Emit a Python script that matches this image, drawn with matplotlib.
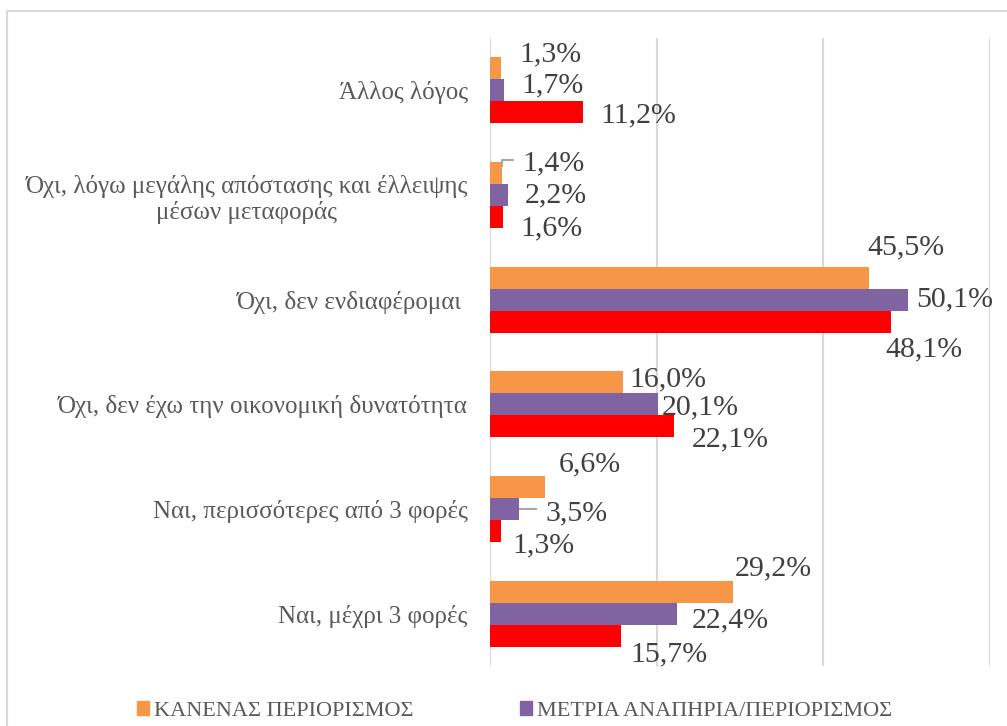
import numpy as np
import matplotlib.pyplot as plt
from matplotlib.lines import Line2D
from matplotlib.patches import Patch

# categories from bottom to top (as in the original Excel chart)
categories = [
    "Ναι, μέχρι 3 φορές",
    "Ναι, περισσότερες από 3 φορές",
    "Όχι, δεν έχω την οικονομική δυνατότητα",
    "Όχι, δεν ενδιαφέρομαι ",
    "Όχι, λόγω μεγάλης απόστασης και έλλειψης\nμέσων μεταφοράς",
    "Άλλος λόγος",
]
series_names = ["ΚΑΝΕΝΑΣ ΠΕΡΙΟΡΙΣΜΟΣ", "ΜΕΤΡΙΑ ΑΝΑΠΗΡΙΑ/ΠΕΡΙΟΡΙΣΜΟΣ", "ΣΟΒΑΡΗ ΑΝΑΠΗΡΙΑ/ΠΕΡΙΟΡΙΣΜΟΣ"]
none_vals = [29.2, 6.6, 16.0, 45.5, 1.4, 1.3]
moderate_vals = [22.4, 3.5, 20.1, 50.1, 2.2, 1.7]
severe_vals = [15.7, 1.3, 22.1, 48.1, 1.6, 11.2]
colors = ["#f79646", "#8064a2", "#ff0000"]

# label offsets in pixels from bar end (dx, dy), per series, bottom-to-top
label_offsets = [
    [(1, 23), (14, 23), (6, 3), (-2, 30), (21, 10), (19, 14)],
    [(15, -7), (26, -4), (4, -3), (9, 0), (16, 0), (17, 5)],
    [(10, -19), (12, -14), (18, -13), (-5, -28), (17, -11), (17, -3)],
]

serif = ["Liberation Serif", "DejaVu Serif"]

fig = plt.figure(figsize=(10.07, 7.26), dpi=100)
ax = fig.add_axes([490 / 1007, 1 - 666 / 726, 500 / 1007, 628 / 726])

y = np.arange(len(categories))
h = 0.21
all_vals = [none_vals, moderate_vals, severe_vals]
for i, (vals, col) in enumerate(zip(all_vals, colors)):
    pos = y + h * (1 - i)
    ax.barh(pos, vals, height=h, color=col, zorder=3)
    for j, v in enumerate(vals):
        dx, dy = label_offsets[i][j]
        ax.annotate(f"{v:.1f}%".replace(".", ","), xy=(v, pos[j]),
                    xytext=(dx, dy), textcoords="offset pixels",
                    ha="left", va="center", fontsize=21.5, color="#404040",
                    family=serif, zorder=4)

# leader lines for moved labels
ax.annotate("", xy=(none_vals[4], y[4] + h * 1.3), xytext=(2.8, y[4] + h * 1.6),
            arrowprops=dict(arrowstyle="-", color="#a6a6a6", lw=1.5,
                            connectionstyle="angle,angleA=0,angleB=90,rad=0",
                            shrinkA=0, shrinkB=0))
ax.plot([moderate_vals[1], 5.5], [y[1], y[1]], color="#a6a6a6", lw=1.5, zorder=2)

ax.set_xlim(0, 60)
ax.set_ylim(-0.5, len(categories) - 0.5)
ax.set_xticks([0, 20, 40, 60])
ax.xaxis.grid(True, color="#d9d9d9", lw=1.5, zorder=0)
ax.tick_params(axis="x", length=0, labelbottom=False)
ax.tick_params(axis="y", length=0, pad=16)
ax.set_yticks(y)
ax.set_yticklabels(categories, fontsize=18, color="#595959", family=serif,
                   multialignment="center")
for s in ax.spines.values():
    s.set_visible(False)

# chart area border (cropped at right and bottom)
fig.add_artist(Line2D([7 / 1007, 7 / 1007], [0, 1 - 11 / 726], color="#d9d9d9", lw=1.5))
fig.add_artist(Line2D([7 / 1007, 1], [1 - 11 / 726, 1 - 11 / 726], color="#d9d9d9", lw=1.5))

handles = [Patch(color=colors[0], label=series_names[0]),
           Patch(color=colors[1], label=series_names[1])]
fig.legend(handles=handles, loc="center left", bbox_to_anchor=(137 / 1007, 1 - 711 / 726),
           ncol=2, frameon=False, handlelength=0.54, handleheight=0.54, handletextpad=0.23,
           columnspacing=4.8, borderaxespad=0, borderpad=0,
           prop={"family": serif, "size": 16}, labelcolor="#595959")

fig.savefig("out.png", dpi=100)
